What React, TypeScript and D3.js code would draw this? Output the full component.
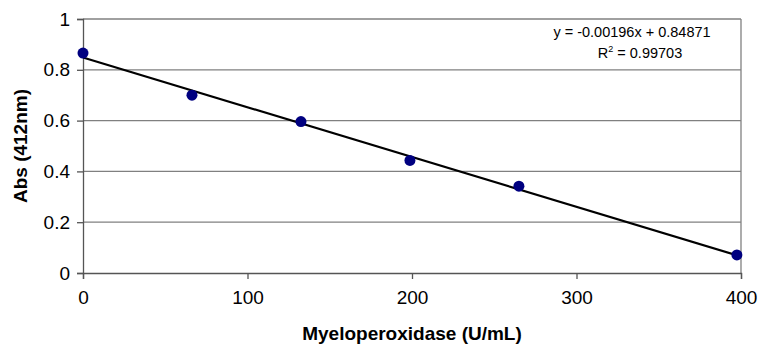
import { useEffect, useRef } from "react";
import * as d3 from "d3";

// readings
const enzyme = [0, 66.25, 132.5, 198.75, 265, 397.5];
const absorbance = [0.866, 0.7, 0.596, 0.443, 0.342, 0.071];
const slope = -0.00196;
const intercept = 0.84871;
const xTicks = [0, 100, 200, 300, 400];
const yTicks = [0, 0.2, 0.4, 0.6, 0.8, 1];
const eqLines = ["y = -0.00196x + 0.84871", "R2 = 0.99703"];

export default function App() {
  const gRef = useRef<SVGGElement>(null);

  const W = 760;
  const H = 346;
  const margin = { top: 19, right: 19, bottom: 73, left: 83 };
  const width = W - margin.left - margin.right;
  const height = H - margin.top - margin.bottom;

  useEffect(() => {
    const g = d3.select(gRef.current);
    g.selectAll("*").remove();

    const x = d3.scaleLinear().domain([0, 400]).range([0, width]);
    const y = d3.scaleLinear().domain([0, 1]).range([height, 0]);
    const font = "'Liberation Sans', Arial, sans-serif";

    // gridlines
    g.append("g")
      .selectAll("line")
      .data(yTicks.filter((t) => t > 0))
      .join("line")
      .attr("x1", 0)
      .attr("x2", width)
      .attr("y1", (d) => y(d))
      .attr("y2", (d) => y(d))
      .attr("stroke", "#808080")
      .attr("stroke-width", 1.3);

    // right border
    g.append("line")
      .attr("x1", width)
      .attr("x2", width)
      .attr("y1", 0)
      .attr("y2", height)
      .attr("stroke", "#808080")
      .attr("stroke-width", 1.3);

    const xAxis = g
      .append("g")
      .attr("transform", `translate(0,${height})`)
      .call(d3.axisBottom(x).tickValues(xTicks).tickSize(6).tickPadding(12).tickFormat(d3.format("d")));
    const yAxis = g
      .append("g")
      .call(d3.axisLeft(y).tickValues(yTicks).tickSize(6).tickPadding(7).tickFormat((d) => String(d)));

    [xAxis, yAxis].forEach((ax) => {
      ax.select(".domain").attr("stroke", "#555").attr("stroke-width", 1.3);
      ax.selectAll(".tick line").attr("stroke", "#555").attr("stroke-width", 1.3);
      ax.selectAll(".tick text")
        .attr("fill", "#000")
        .style("font-family", font)
        .style("font-size", "19px");
    });

    // trend line
    const xs = d3.extent(enzyme) as [number, number];
    g.append("path")
      .datum(xs)
      .attr("fill", "none")
      .attr("stroke", "#000")
      .attr("stroke-width", 2.2)
      .attr(
        "d",
        d3
          .line<number>()
          .x((d) => x(d))
          .y((d) => y(slope * d + intercept))
      );

    // data points
    g.append("g")
      .selectAll("circle")
      .data(enzyme)
      .join("circle")
      .attr("cx", (d) => x(d))
      .attr("cy", (_, i) => y(absorbance[i]))
      .attr("r", 5.5)
      .attr("fill", "#000080");

    // equation
    const eq = g
      .append("text")
      .attr("text-anchor", "middle")
      .style("font-family", font)
      .style("font-size", "14.5px")
      .attr("fill", "#000");
    eq.append("tspan").attr("x", 549).attr("y", 18).text(eqLines[0]);
    const r2 = eq.append("tspan").attr("x", 557).attr("y", 39);
    r2.text(eqLines[1].slice(0, 1));
    eq.append("tspan").attr("dy", -6).style("font-size", "9px").text(eqLines[1].slice(1, 2));
    eq.append("tspan").attr("dy", 6).text(eqLines[1].slice(2));

    // axis titles
    g.append("text")
      .attr("x", width / 2)
      .attr("y", height + 67)
      .attr("text-anchor", "middle")
      .style("font-family", font)
      .style("font-size", "19px")
      .style("font-weight", "bold")
      .text("Myeloperoxidase (U/mL)");

    g.append("text")
      .attr("transform", `translate(${-56},${height / 2}) rotate(-90)`)
      .attr("text-anchor", "middle")
      .style("font-family", font)
      .style("font-size", "19px")
      .style("font-weight", "bold")
      .text("Abs (412nm)");
  }, []);

  return (
    <svg width={W} height={H} style={{ position: "absolute", left: 0, top: 0, background: "#fff" }}>
      <g ref={gRef} transform={`translate(${margin.left},${margin.top})`}></g>
    </svg>
  );
}
